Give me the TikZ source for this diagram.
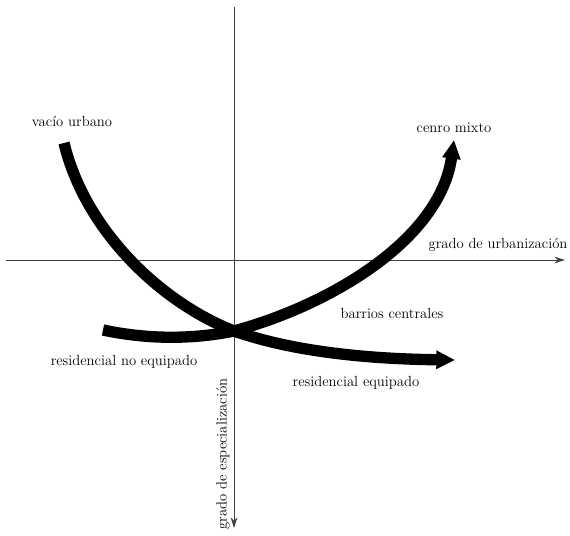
\documentclass[tikz,border=0pt]{standalone}
\usetikzlibrary{arrows.meta}

\tikzset{
  eje/.style={line width=0.7pt,black!75,-{Stealth[length=8pt,width=5pt]}},
  curva/.style={line width=8.5pt,-{Triangle[length=14pt,width=13pt]}},
  etiqueta/.style={inner sep=1pt,font=\fontsize{11}{13}\selectfont}
}

\begin{document}
\begin{tikzpicture}[x=0.75pt,y=-0.75pt]
    \useasboundingbox (0,0) rectangle (570,535);

    % ejes
    \coordinate (xizq) at (6,260);
    \coordinate (xder) at (565,260);
    \coordinate (yarr) at (234,7);
    \coordinate (yaba) at (234,528);
    \draw[eje] (xizq) -- (xder);
    \draw[eje] (yarr) -- (yaba);
    \node[etiqueta,anchor=west] (urb) at (427,245) {grado de urbanización};
    \node[etiqueta,rotate=90] (esp) at (223,454) {grado de especialización};

    % curvas
    \coordinate (cruce) at (234,331);
    \coordinate (vacio) at (64,143);
    \coordinate (resno) at (103,330);
    \coordinate (resfin) at (455,360);
    \coordinate (mixfin) at (454,140);
    \draw[curva] (vacio) .. controls (85,230) and (160,302) .. (cruce)
                 .. controls (300,354) and (380,359) .. (resfin);
    \draw[curva] (resno) .. controls (150,340) and (195,339) .. (cruce)
                 .. controls (330,305) and (440,240) .. (mixfin);

    \node[etiqueta] (lvacio) at (72,121) {vacío urbano};
    \node[etiqueta] (lmixto) at (454,128) {cenro mixto};
    \node[etiqueta] (lbarrios) at (392,313) {barrios centrales};
    \node[etiqueta] (lresno) at (124,362) {residencial no equipado};
    \node[etiqueta] (lreseq) at (356,383) {residencial equipado};
\end{tikzpicture}
\end{document}
